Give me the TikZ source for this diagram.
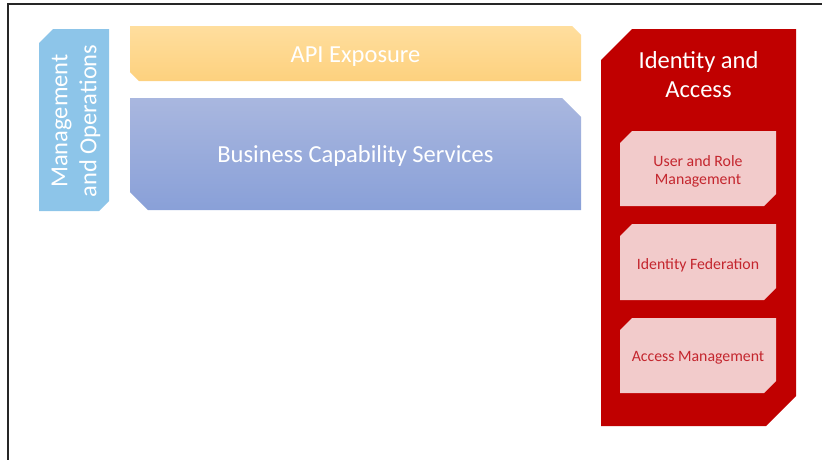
\documentclass[tikz,border=0pt]{standalone}
\usepackage{fontspec}
\setmainfont{Carlito}
\definecolor{mgmtblue}{HTML}{8DC5E9}
\definecolor{apitop}{HTML}{FFDE9E}
\definecolor{apibot}{HTML}{FDD17E}
\definecolor{bcstop}{HTML}{A9B7DF}
\definecolor{bcsbot}{HTML}{89A0D8}
\definecolor{idred}{HTML}{C00000}
\definecolor{innerpink}{HTML}{F2CBCB}
\definecolor{innertext}{HTML}{C4262E}
% top-left and bottom-right snipped
\newcommand{\snipTLBR}[6]{({#1+#5},#2) -- (#3,#2) -- (#3,{#4-#6}) -- ({#3-#6},#4) -- (#1,#4) -- (#1,{#2+#5}) -- cycle}
% top-right and bottom-left snipped
\newcommand{\snipTRBL}[6]{(#1,#2) -- ({#3-#5},#2) -- (#3,{#2+#5}) -- (#3,#4) -- ({#1+#6},#4) -- (#1,{#4-#6}) -- cycle}
\begin{document}
\begin{tikzpicture}[x=1pt,y=-1pt,
  bigtext/.style={text=white,font=\fontsize{24.5}{29}\selectfont,align=center,inner sep=0pt},
  smalltext/.style={text=innertext,font=\fontsize{15.8}{18}\selectfont,align=center,inner sep=0pt}]
\useasboundingbox (0,0) rectangle (822,459);
% frame
\draw[line width=2pt,black!85] (8,460) -- (8,4) -- (823,4);
% management and operations
\fill[mgmtblue] \snipTLBR{39}{29}{109}{211}{14}{10};
\node[bigtext,rotate=90] (mgmt) at (76,121) {Management\\and Operations};
% API exposure
\shade[top color=apitop,bottom color=apibot] \snipTRBL{130}{26}{581}{81}{9}{9};
\node[bigtext] (api) at (355.5,57) {API Exposure};
% business capability services
\shade[top color=bcstop,bottom color=bcsbot] \snipTRBL{130}{98}{581}{210}{19}{18};
\node[bigtext] (bcs) at (355.5,156) {Business Capability Services};
% identity and access
\fill[idred] \snipTLBR{601}{29}{796}{426}{31}{30};
\node[bigtext] (ida) at (698.5,75) {Identity and\\Access};
\fill[innerpink] \snipTLBR{620}{131}{776}{206}{12}{12};
\node[smalltext] (urm) at (698,171) {User and Role\\Management};
\fill[innerpink] \snipTLBR{620}{224}{776}{300}{12}{12};
\node[smalltext] (idf) at (698,265) {Identity Federation};
\fill[innerpink] \snipTLBR{620}{318}{776}{393}{12}{12};
\node[smalltext] (acm) at (698,358) {Access Management};
\end{tikzpicture}
\end{document}
